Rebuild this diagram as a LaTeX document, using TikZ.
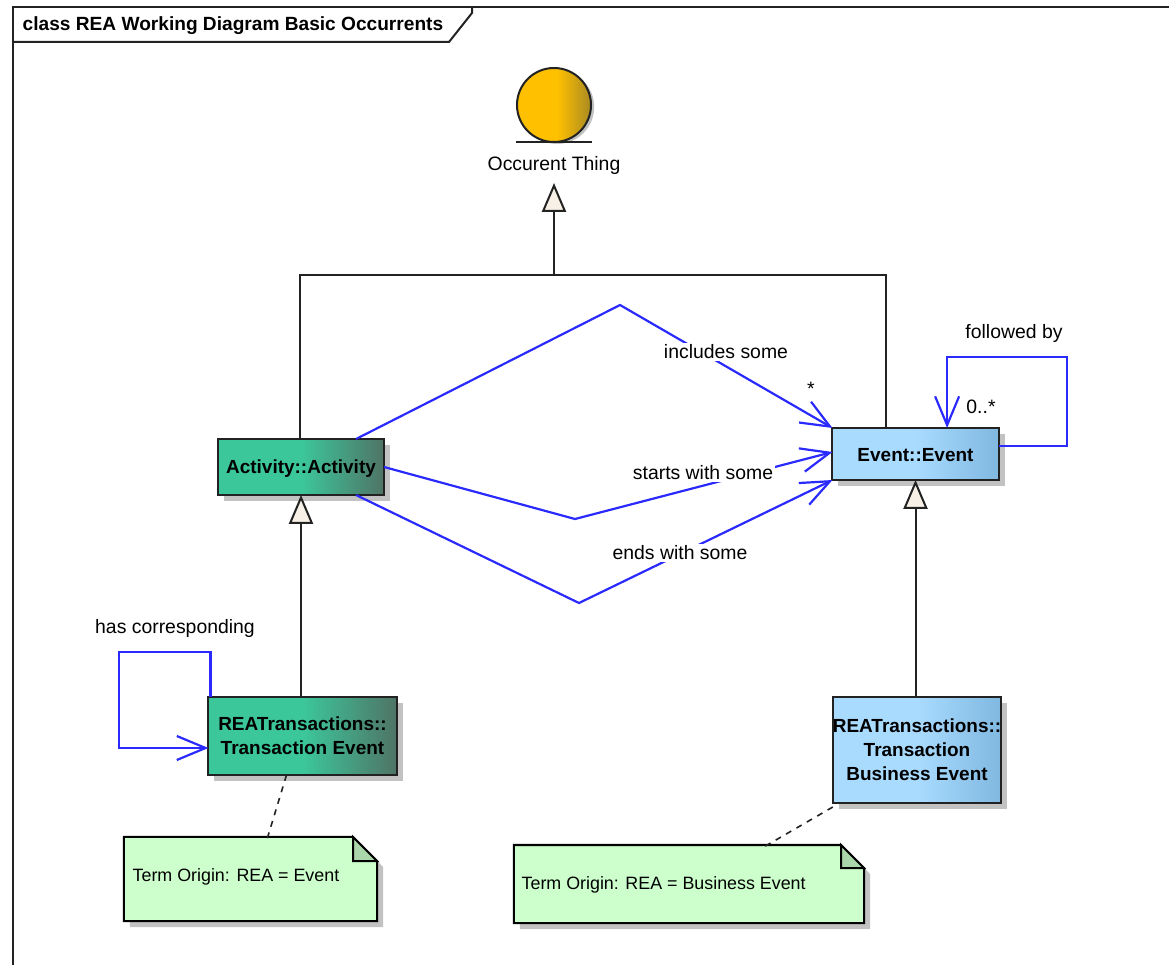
\documentclass[tikz,border=0pt]{standalone}
\usepackage{fontspec}
\setmainfont{Liberation Sans}
\usetikzlibrary{arrows.meta,calc,shadows}
\definecolor{tealflat}{HTML}{3CC79B}
\definecolor{tealdark}{HTML}{4F7466}
\definecolor{blueflat}{HTML}{A9DBFF}
\definecolor{bluedark}{HTML}{80B8E0}
\definecolor{ballflat}{HTML}{FFC000}
\definecolor{balldark}{HTML}{A98A22}
\definecolor{notegreen}{HTML}{CCFFCC}
\definecolor{foldgreen}{HTML}{ABD6AB}
\definecolor{tipcream}{HTML}{F7F0E6}
\definecolor{assocblue}{HTML}{2A2AFF}
\definecolor{linegrey}{HTML}{222222}
\definecolor{shadowgrey}{HTML}{C2C2C2}
\pgfdeclarehorizontalshading{tealshade}{100bp}{color(0bp)=(tealflat); color(50bp)=(tealflat); color(75bp)=(tealdark); color(100bp)=(tealdark)}
\pgfdeclarehorizontalshading{blueshade}{100bp}{color(0bp)=(blueflat); color(50bp)=(blueflat); color(75bp)=(bluedark); color(100bp)=(bluedark)}
\pgfdeclarehorizontalshading{ballshade}{100bp}{color(0bp)=(ballflat); color(52bp)=(ballflat); color(75bp)=(balldark); color(100bp)=(balldark)}
\tikzset{
	softshadow/.style={drop shadow={shadow xshift=0.15cm,shadow yshift=-0.15cm,fill=shadowgrey,opacity=1}},
	classbox/.style={draw=linegrey,line width=0.05cm,softshadow,inner sep=0pt,outer sep=0pt,align=center,font=\fontsize{13.5}{17}\selectfont\bfseries},
	tealbox/.style={classbox,shading=tealshade},
	bluebox/.style={classbox,shading=blueshade},
	plainlabel/.style={inner sep=1pt,font=\fontsize{13.8}{15}\selectfont},
	notelabel/.style={inner sep=1pt,font=\fontsize{12.7}{15}\selectfont},
	assoclabel/.style={plainlabel,fill=white},
	genline/.style={draw=linegrey,line width=0.05cm,-{Triangle[open,fill=tipcream,length=0.72cm,width=0.6cm]}},
	trunk/.style={draw=linegrey,line width=0.05cm},
	assoc/.style={draw=assocblue,line width=0.055cm,-{Straight Barb[length=0.72cm,width=0.6cm,line width=0.055cm]}},
	notelink/.style={draw=linegrey,line width=0.04cm,dash pattern=on 0.15cm off 0.15cm},
	notebody/.style={inner sep=0pt,outer sep=0pt},
	notepath/.style={draw=black,line width=0.05cm,fill=notegreen,softshadow},
	foldpath/.style={draw=black,line width=0.05cm,fill=foldgreen}
}
\begin{document}
\begin{tikzpicture}[x=0.025cm,y=-0.025cm]
	\useasboundingbox (0,0) rectangle (1169,965);
	\draw[trunk] (13,965) -- (13,7) -- (1169,7);
	\draw[trunk] (13,42) -- (449,42) -- (472,13) -- (472,7);
	\node[plainlabel,anchor=west,font=\fontsize{13.6}{15}\selectfont\bfseries] (frametitle) at (21,26) {class REA Working Diagram Basic Occurrents};

	\node[circle,draw=linegrey,line width=0.05cm,shading=ballshade,minimum size=1.85cm,inner sep=0pt,outer sep=0pt,drop shadow={shadow xshift=0.08cm,shadow yshift=-0.05cm,fill=shadowgrey,opacity=1}] (occurent) at (554,105) {};
	\draw[trunk] ([xshift=-0.94cm]occurent.south) -- ([xshift=0.94cm]occurent.south);
	\node[plainlabel] (occurentlabel) at (554,165) {Occurent Thing};

	\node[tealbox,minimum width=4.15cm,minimum height=1.4cm,text height=0.44cm,text depth=0.1cm] (activity) at (301,467) {Activity::Activity};
	\node[bluebox,minimum width=4.15cm,minimum height=1.3cm,text height=0.48cm,text depth=0.1cm] (event) at (915.5,454) {Event::Event};
	\node[tealbox,minimum width=4.7cm,minimum height=1.95cm] (transevent) at (302.5,736) {REATransactions::\\Transaction Event};
	\node[bluebox,minimum width=4.15cm,minimum height=2.65cm] (bizevent) at (917,750) {REATransactions::\\Transaction\\Business Event};

	\node[notebody,minimum width=6.325cm,minimum height=2.1cm] (notea) at (250.5,879) {};
	\draw[notepath] (notea.south west) -- (notea.north west) -- ([xshift=-0.6cm]notea.north east) -- ([yshift=-0.6cm]notea.north east) -- (notea.south east) -- cycle;
	\draw[foldpath] ([xshift=-0.6cm]notea.north east) -- ([xshift=-0.6cm,yshift=-0.6cm]notea.north east) -- ([yshift=-0.6cm]notea.north east) -- cycle;
	\node[notelabel,anchor=west] (noteatext) at ([xshift=0.175cm,yshift=0.05cm]notea.west) {Term Origin: REA = Event};

	\node[notebody,minimum width=8.75cm,minimum height=1.95cm] (noteb) at (689,884) {};
	\draw[notepath] (noteb.south west) -- (noteb.north west) -- ([xshift=-0.575cm]noteb.north east) -- ([yshift=-0.575cm]noteb.north east) -- (noteb.south east) -- cycle;
	\draw[foldpath] ([xshift=-0.575cm]noteb.north east) -- ([xshift=-0.575cm,yshift=-0.575cm]noteb.north east) -- ([yshift=-0.575cm]noteb.north east) -- cycle;
	\node[notelabel,anchor=west] (notebtext) at ([xshift=0.15cm,yshift=-0.025cm]noteb.west) {Term Origin: REA = Business Event};

	\coordinate (jointop) at (554,275);
	\coordinate (gentip) at (554,183);
	\coordinate (bendinc) at (620,305);
	\coordinate (bendstart) at (575,519);
	\coordinate (bendend) at (579,603);
	\coordinate (followa) at (1067,446);
	\coordinate (followb) at (1067,357);
	\coordinate (hasb) at (119,652);
	\coordinate (hasc) at (119,748);

	\draw[trunk] ([xshift=-0.025cm]activity.north) |- (jointop) -| ([xshift=-0.74cm]event.north);
	\draw[genline] (jointop) -- (gentip);
	\draw[genline] (activity.south |- transevent.north) -- (activity.south);
	\draw[genline] (event.south |- bizevent.north) -- (event.south);

	\draw[assoc] ([xshift=1.375cm]activity.north) -- (bendinc) -- (event.north west);
	\draw[assoc] (activity.east) -- (bendstart) -- ([yshift=0.05cm]event.west);
	\draw[assoc] ([xshift=1.375cm]activity.south) -- (bendend) -- (event.south west);
	\draw[assoc] (event.east |- followa) -- (followa) -- (followb) -| ([xshift=0.79cm]event.north);
	\draw[assoc] ([xshift=0.05cm]transevent.north west) |- (hasb) -- (hasc) -- (transevent.west |- hasc);

	\draw[notelink] ([xshift=-0.4cm]transevent.south) -- ([xshift=0.4cm,yshift=-0.1cm]notea.north);
	\draw[notelink] ([yshift=-0.1cm]bizevent.south west) -- ([xshift=1.825cm,yshift=-0.075cm]noteb.north);

	\node[assoclabel] (includeslabel) at (726,352) {includes some};
	\node[assoclabel] (startslabel) at (703,473) {starts with some};
	\node[assoclabel] (endslabel) at (680,553) {ends with some};
	\node[plainlabel] (starlabel) at (811,389) {*};
	\node[plainlabel] (zeromany) at (981,407) {0..*};
	\node[plainlabel] (followedlabel) at (1014,333) {followed by};
	\node[plainlabel] (haslabel) at (175,628) {has corresponding};
\end{tikzpicture}
\end{document}
